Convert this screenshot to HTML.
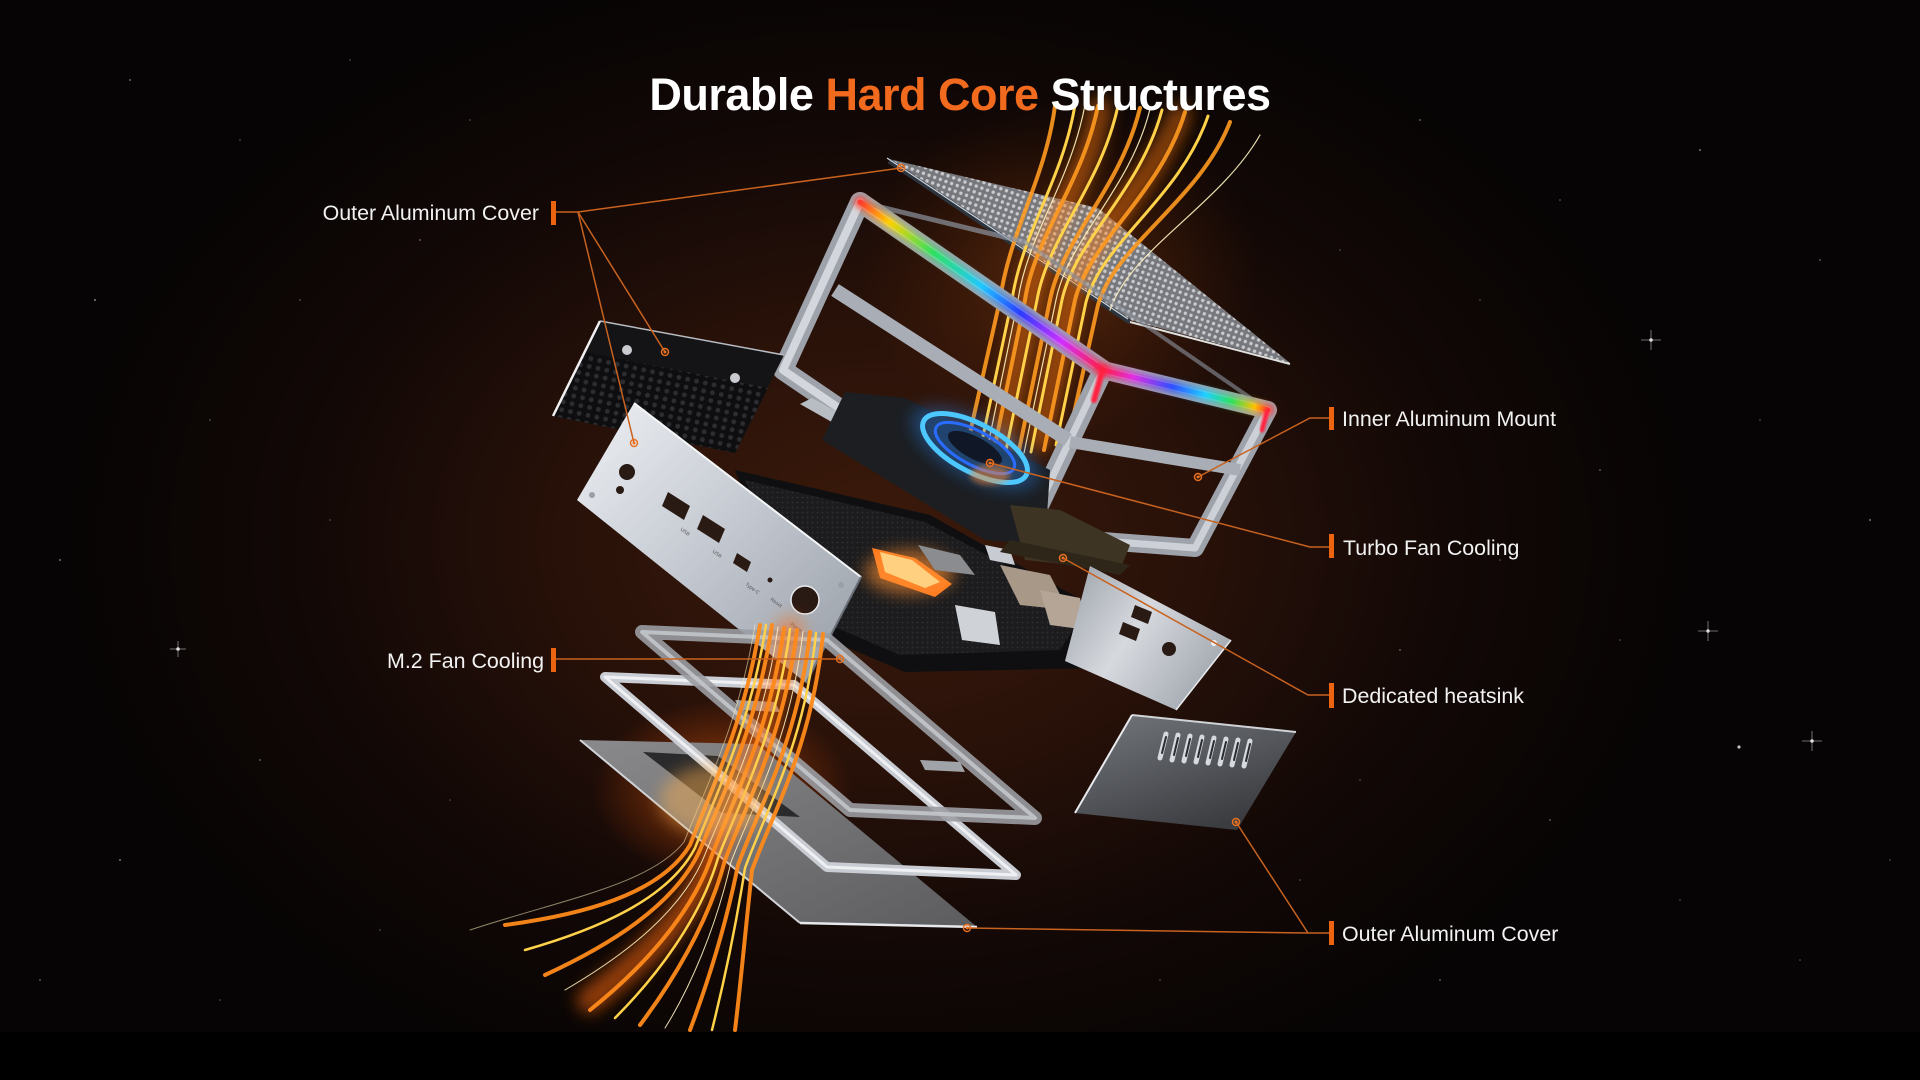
<!DOCTYPE html>
<html><head><meta charset="utf-8"><style>
html,body{margin:0;padding:0;background:#000;}
svg{display:block;}
</style></head><body>
<svg width="1920" height="1080" viewBox="0 0 1920 1080" xmlns="http://www.w3.org/2000/svg">
<defs>
<radialGradient id="bg" cx="880" cy="540" r="820" gradientUnits="userSpaceOnUse" gradientTransform="translate(880 540) scale(1 0.72) translate(-880 -540)">
<stop offset="0" stop-color="#3c1a0b"/><stop offset="0.35" stop-color="#2a1209"/><stop offset="0.7" stop-color="#120806"/><stop offset="1" stop-color="#060404"/>
</radialGradient>
<radialGradient id="hotglow" cx="0.5" cy="0.5" r="0.5"><stop offset="0" stop-color="#ffb040" stop-opacity="0.8"/><stop offset="0.45" stop-color="#ff6a10" stop-opacity="0.3"/><stop offset="1" stop-color="#ff5000" stop-opacity="0"/></radialGradient>
<radialGradient id="topglow" cx="0.5" cy="0.5" r="0.5"><stop offset="0" stop-color="#c25a18" stop-opacity="0.35"/><stop offset="1" stop-color="#803000" stop-opacity="0"/></radialGradient>
<pattern id="mesh" width="6" height="6" patternUnits="userSpaceOnUse" patternTransform="rotate(20)"><rect width="6" height="6" fill="#6c6d72"/><circle cx="3" cy="3" r="1.7" fill="#c6c7cb"/></pattern>
<pattern id="hex" width="9" height="8" patternUnits="userSpaceOnUse" patternTransform="rotate(12)"><rect width="9" height="8" fill="#0e0e10"/><circle cx="4.5" cy="4" r="2.4" fill="#2c2d31"/></pattern>
<pattern id="fine" width="5" height="5" patternUnits="userSpaceOnUse"><rect width="5" height="5" fill="#1c1c1e"/><circle cx="2.5" cy="2.5" r="0.9" fill="#303034"/></pattern>
<linearGradient id="silver" x1="0" y1="0" x2="1" y2="1"><stop offset="0" stop-color="#eef0f4"/><stop offset="0.5" stop-color="#c3c8d0"/><stop offset="1" stop-color="#959ba4"/></linearGradient>
<linearGradient id="silver2" x1="0" y1="0" x2="1" y2="0.6"><stop offset="0" stop-color="#9aa0a8"/><stop offset="0.5" stop-color="#d6d9de"/><stop offset="1" stop-color="#a4a9b1"/></linearGradient>
<linearGradient id="cover" x1="0" y1="0" x2="0.6" y2="1"><stop offset="0" stop-color="#74777c"/><stop offset="1" stop-color="#3a3c40"/></linearGradient>
<linearGradient id="plate" x1="0" y1="0" x2="1" y2="1"><stop offset="0" stop-color="#8a8a8c"/><stop offset="1" stop-color="#5c5c5e"/></linearGradient>
<linearGradient id="rgbA" x1="860" y1="202" x2="1103" y2="370" gradientUnits="userSpaceOnUse">
<stop offset="0" stop-color="#ff3a30"/><stop offset="0.12" stop-color="#ffd000"/><stop offset="0.3" stop-color="#30e060"/><stop offset="0.5" stop-color="#20c8ff"/><stop offset="0.66" stop-color="#2a3cff"/><stop offset="0.83" stop-color="#d030ff"/><stop offset="1" stop-color="#ff2040"/></linearGradient>
<linearGradient id="rgbB" x1="1103" y1="370" x2="1268" y2="410" gradientUnits="userSpaceOnUse">
<stop offset="0" stop-color="#ff2040"/><stop offset="0.18" stop-color="#e030e0"/><stop offset="0.42" stop-color="#3050ff"/><stop offset="0.62" stop-color="#20d0ff"/><stop offset="0.78" stop-color="#30e060"/><stop offset="0.92" stop-color="#ffc000"/><stop offset="1" stop-color="#ff3030"/></linearGradient>
<filter id="blur8" x="-50%" y="-50%" width="200%" height="200%"><feGaussianBlur stdDeviation="8"/></filter>
<filter id="blur3" x="-50%" y="-50%" width="200%" height="200%"><feGaussianBlur stdDeviation="3"/></filter>
<filter id="blur1" x="-50%" y="-50%" width="200%" height="200%"><feGaussianBlur stdDeviation="1"/></filter>
</defs>

<!-- background -->
<rect width="1920" height="1080" fill="url(#bg)"/>
<rect x="0" y="1032" width="1920" height="48" fill="#000"/>

<!-- stars -->
<g fill="#ffffff">
<circle cx="130" cy="80" r="0.9" opacity=".5"/><circle cx="240" cy="140" r="0.8" opacity=".4"/><circle cx="95" cy="300" r="1" opacity=".5"/><circle cx="210" cy="420" r="0.8" opacity=".4"/><circle cx="330" cy="520" r="0.8" opacity=".35"/><circle cx="60" cy="560" r="1" opacity=".45"/><circle cx="178" cy="649" r="1.8" opacity=".8"/><circle cx="260" cy="760" r="0.9" opacity=".4"/><circle cx="120" cy="860" r="1" opacity=".45"/><circle cx="380" cy="930" r="0.8" opacity=".35"/><circle cx="300" cy="300" r="0.8" opacity=".4"/><circle cx="420" cy="240" r="0.9" opacity=".4"/><circle cx="470" cy="120" r="0.8" opacity=".35"/><circle cx="350" cy="60" r="0.8" opacity=".35"/><circle cx="40" cy="980" r="0.9" opacity=".4"/><circle cx="220" cy="1000" r="0.8" opacity=".35"/><circle cx="450" cy="800" r="0.8" opacity=".3"/>
<circle cx="1420" cy="120" r="0.9" opacity=".45"/><circle cx="1560" cy="200" r="0.8" opacity=".4"/><circle cx="1700" cy="150" r="1" opacity=".45"/><circle cx="1820" cy="260" r="0.9" opacity=".4"/><circle cx="1651" cy="340" r="1.8" opacity=".8"/><circle cx="1480" cy="300" r="0.8" opacity=".35"/><circle cx="1600" cy="470" r="0.9" opacity=".4"/><circle cx="1760" cy="420" r="0.8" opacity=".4"/><circle cx="1870" cy="520" r="1" opacity=".45"/><circle cx="1708" cy="631" r="1.7" opacity=".8"/><circle cx="1739" cy="747" r="1.6" opacity=".75"/><circle cx="1812" cy="741" r="1.8" opacity=".8"/><circle cx="1500" cy="560" r="0.8" opacity=".35"/><circle cx="1400" cy="650" r="0.9" opacity=".4"/><circle cx="1550" cy="820" r="0.9" opacity=".4"/><circle cx="1680" cy="900" r="0.8" opacity=".35"/><circle cx="1440" cy="980" r="0.9" opacity=".4"/><circle cx="1800" cy="960" r="0.8" opacity=".35"/><circle cx="1360" cy="780" r="0.8" opacity=".35"/><circle cx="1620" cy="640" r="0.8" opacity=".35"/><circle cx="1890" cy="860" r="0.8" opacity=".35"/><circle cx="1340" cy="250" r="0.8" opacity=".35"/><circle cx="1250" cy="90" r="0.8" opacity=".35"/><circle cx="1160" cy="980" r="0.8" opacity=".35"/><circle cx="1300" cy="880" r="0.8" opacity=".35"/>
</g>
<g stroke="#ffffff" stroke-width="0.8" opacity=".55">
<line x1="1641" y1="340" x2="1661" y2="340"/><line x1="1651" y1="330" x2="1651" y2="350"/>
<line x1="1698" y1="631" x2="1718" y2="631"/><line x1="1708" y1="621" x2="1708" y2="641"/>
<line x1="1802" y1="741" x2="1822" y2="741"/><line x1="1812" y1="731" x2="1812" y2="751"/>
<line x1="170" y1="649" x2="186" y2="649"/><line x1="178" y1="641" x2="178" y2="657"/>
</g>

<!-- warm glows -->
<ellipse cx="722" cy="790" rx="130" ry="90" fill="url(#hotglow)"/>
<ellipse cx="1060" cy="270" rx="200" ry="170" fill="url(#topglow)"/>

<!-- top mesh cover -->
<polygon points="889,159 1098,208 1290,363 1130,320" fill="url(#mesh)"/>
<polygon points="889,159 1098,208 1290,363 1130,320" fill="#ffffff" opacity=".08"/>
<line x1="889" y1="161" x2="1130" y2="322" stroke="#2c343e" stroke-width="5"/>
<line x1="887" y1="158" x2="1128" y2="319" stroke="#cfd6de" stroke-width="1.2"/>
<line x1="1130" y1="322" x2="1290" y2="364" stroke="#e0e0e0" stroke-width="2"/>

<!-- upper streaks -->
<g fill="none" stroke-linecap="round">
<g filter="url(#blur8)" stroke="#ff7a10" stroke-width="22" opacity=".5">
<path d="M1100 108 C1085 190 1040 230 1030 300 L1000 450"/>
<path d="M1180 115 C1150 190 1080 240 1070 300 L1040 440"/>
</g>
<g stroke="#ff9a20" stroke-width="4" opacity=".9">
<path d="M1055 106 C1045 180 1010 230 1000 300 L965 455"/>
<path d="M1098 106 C1082 185 1035 235 1025 300 L993 455"/>
<path d="M1140 108 C1120 190 1062 238 1050 300 L1018 455"/>
<path d="M1185 112 C1160 195 1090 240 1075 300 L1044 450"/>
<path d="M1230 122 C1200 200 1115 245 1098 305 L1068 440"/>
</g>
<g stroke="#ffd24a" stroke-width="3">
<path d="M1075 105 C1062 182 1022 232 1012 300 L979 455"/>
<path d="M1118 106 C1100 188 1048 236 1037 300 L1005 455"/>
<path d="M1162 110 C1140 192 1075 240 1062 300 L1031 452"/>
<path d="M1208 116 C1180 198 1102 242 1086 302 L1056 445"/>
</g>
<g stroke="#fff4c0" stroke-width="1.2" opacity=".9">
<path d="M1085 105 C1070 184 1028 233 1018 300 L986 455"/>
<path d="M1150 109 C1130 190 1068 239 1056 300 L1024 453"/>
<path d="M1260 135 C1220 205 1130 250 1110 310"/>
</g>
</g>

<!-- RGB inner frame -->
<g fill="none" stroke-linejoin="round">
<polygon points="860,202 1103,370 1025,535 783,370" stroke="#9ea3ab" stroke-width="20"/>
<polygon points="860,202 1103,370 1025,535 783,370" stroke="#d3d7dd" stroke-width="8"/>
<polygon points="1103,370 1268,410 1195,548 1025,535" stroke="#9ea3ab" stroke-width="18"/>
<polygon points="1103,370 1268,410 1195,548 1025,535" stroke="#cdd1d7" stroke-width="7"/>
<line x1="835" y1="290" x2="1068" y2="440" stroke="#a9aeb6" stroke-width="14"/>
<line x1="1070" y1="442" x2="1240" y2="470" stroke="#a9aeb6" stroke-width="12"/>
<line x1="860" y1="202" x2="1025" y2="242" stroke="#8d94a0" stroke-width="5" opacity=".7"/>
<line x1="1025" y1="242" x2="1268" y2="410" stroke="#8d94a0" stroke-width="4" opacity=".6"/>
</g>
<g stroke-linecap="round">
<line x1="860" y1="202" x2="1103" y2="370" stroke="url(#rgbA)" stroke-width="12" filter="url(#blur3)" opacity=".8"/>
<line x1="1103" y1="370" x2="1268" y2="410" stroke="url(#rgbB)" stroke-width="12" filter="url(#blur3)" opacity=".8"/>
<line x1="860" y1="202" x2="1103" y2="370" stroke="url(#rgbA)" stroke-width="5"/>
<line x1="1103" y1="370" x2="1268" y2="410" stroke="url(#rgbB)" stroke-width="5"/>
<line x1="1102" y1="372" x2="1094" y2="400" stroke="#ff2040" stroke-width="6" filter="url(#blur1)"/>
<line x1="1267" y1="412" x2="1262" y2="430" stroke="#ff2040" stroke-width="5" filter="url(#blur1)"/>
</g>

<!-- fan assembly -->
<polygon points="800,404 812,398 1000,500 990,512" fill="#b8bcc3"/>
<polygon points="845,392 905,398 1050,470 1045,545 985,540 822,440" fill="#1c1e22"/>
<polygon points="1010,505 1060,510 1130,545 1120,570 1025,560" fill="#3e3424"/>
<g transform="rotate(28 975 448)">
<ellipse cx="975" cy="448" rx="70" ry="30" fill="#2a8cff" opacity=".35" filter="url(#blur8)"/>
<ellipse cx="975" cy="448" rx="58" ry="24" fill="none" stroke="#4cc8ff" stroke-width="5"/>
<ellipse cx="975" cy="448" rx="44" ry="17" fill="none" stroke="#2a6cff" stroke-width="3"/>
<ellipse cx="975" cy="448" rx="30" ry="11" fill="#101828"/>
</g>
<ellipse cx="990" cy="475" rx="20" ry="10" fill="#ff8a30" opacity=".5" filter="url(#blur3)"/>

<!-- left black rear panel -->
<polygon points="600,321 784,355 735,453 553,416" fill="#141416"/>
<polygon points="585,352 768,388 735,453 553,416" fill="url(#hex)"/>
<line x1="600" y1="321" x2="553" y2="416" stroke="#f0f0f0" stroke-width="2.5"/>
<line x1="600" y1="321" x2="784" y2="355" stroke="#b8bcc3" stroke-width="1.5"/>
<circle cx="627" cy="350" r="5" fill="#c9cbd0"/><circle cx="735" cy="378" r="5" fill="#c9cbd0"/>

<!-- motherboard -->
<polygon points="735,470 930,515 1010,560 1100,610 1105,668 905,672 830,640 780,590" fill="#0f0f11"/>
<polygon points="745,480 925,522 1000,562 1085,612 1060,650 900,655 830,625 790,585" fill="url(#fine)"/>
<polygon points="872,548 915,558 952,584 935,597 880,578" fill="#ff7a20"/>
<ellipse cx="910" cy="572" rx="45" ry="22" fill="#ff9030" opacity=".6" filter="url(#blur8)"/>
<polygon points="880,552 912,560 940,582 925,588 885,572" fill="#ffd080"/>
<polygon points="918,545 960,555 975,575 935,570" fill="#8a8c90"/>
<polygon points="1000,565 1050,575 1068,610 1020,605" fill="#a89888"/>
<polygon points="1040,590 1080,598 1088,630 1050,625" fill="#b4a596"/>
<polygon points="955,605 995,612 1000,645 962,640" fill="#cfd2d6"/>
<polygon points="985,545 1010,550 1015,565 990,560" fill="#c8ccd2"/>
<polygon points="1010,540 1130,565 1120,575 1000,552" fill="#2e2619"/>

<!-- front IO panel -->
<polygon points="634,403 861,577 806,683 577,500" fill="url(#silver)"/>
<line x1="634" y1="403" x2="861" y2="577" stroke="#f4f6f8" stroke-width="2"/>
<line x1="861" y1="577" x2="806" y2="683" stroke="#6a7078" stroke-width="2"/>
<g fill="#2a1a14">
<circle cx="627" cy="472" r="8"/>
<circle cx="620" cy="490" r="4"/>
<polygon points="668,492 690,506 684,520 662,506"/>
<polygon points="703,515 725,529 719,543 697,529"/>
<polygon points="737,553 751,562 747,572 733,563"/>
<circle cx="770" cy="580" r="2.5"/>
<circle cx="805" cy="600" r="14"/>
</g>
<circle cx="805" cy="600" r="14" fill="none" stroke="#e8eaee" stroke-width="1.5"/>
<g fill="#9aa0a8"><circle cx="592" cy="495" r="3"/><circle cx="841" cy="585" r="3"/><circle cx="800" cy="661" r="3"/></g>
<g font-family="Liberation Sans, sans-serif" font-size="5" fill="#555">
<text x="680" y="530" transform="rotate(36 680 530)">USB</text>
<text x="712" y="552" transform="rotate(36 712 552)">USB</text>
<text x="745" y="585" transform="rotate(36 745 585)">Type-C</text>
<text x="770" y="600" transform="rotate(36 770 600)">Reset</text>
<text x="790" y="625" transform="rotate(36 790 625)">Power</text>
</g>

<!-- right IO panel -->
<polygon points="1090,566 1231,640 1176,710 1065,661" fill="url(#silver2)"/>
<line x1="1231" y1="640" x2="1176" y2="710" stroke="#e8eaee" stroke-width="1.5"/>
<g fill="#2a1a14">
<polygon points="1135,605 1152,612 1148,624 1131,617"/>
<polygon points="1123,622 1140,629 1136,641 1119,634"/>
<circle cx="1169" cy="649" r="7"/>
</g>
<circle cx="1214" cy="643" r="3" fill="#f0f0f0"/>

<!-- bottom right heatsink cover -->
<polygon points="1132,715 1296,732 1237,830 1075,813" fill="url(#cover)"/>
<line x1="1132" y1="715" x2="1296" y2="732" stroke="#d0d3d8" stroke-width="2"/>
<line x1="1132" y1="715" x2="1075" y2="813" stroke="#e8eaee" stroke-width="2"/>
<g stroke="#d6dae0" stroke-width="5" stroke-linecap="round">
<line x1="1166" y1="734" x2="1160" y2="758"/><line x1="1178" y1="735" x2="1172" y2="760"/><line x1="1190" y1="736" x2="1184" y2="761"/><line x1="1202" y1="737" x2="1196" y2="762"/><line x1="1214" y1="738" x2="1208" y2="763"/><line x1="1226" y1="739" x2="1220" y2="764"/><line x1="1238" y1="740" x2="1232" y2="765"/><line x1="1250" y1="741" x2="1244" y2="766"/>
</g>
<g stroke="#2a2c30" stroke-width="2" stroke-linecap="round">
<line x1="1166" y1="737" x2="1162" y2="753"/><line x1="1178" y1="738" x2="1174" y2="755"/><line x1="1190" y1="739" x2="1186" y2="756"/><line x1="1202" y1="740" x2="1198" y2="757"/><line x1="1214" y1="741" x2="1210" y2="758"/><line x1="1226" y1="742" x2="1222" y2="759"/><line x1="1238" y1="743" x2="1234" y2="760"/><line x1="1250" y1="744" x2="1246" y2="761"/>
</g>

<!-- bottom plate -->
<polygon points="580,740 757,744 977,927 800,923" fill="url(#plate)"/>
<polygon points="643,752 718,756 800,817 722,813" fill="#2a2a2c"/>
<line x1="580" y1="740" x2="800" y2="923" stroke="#cfd3d8" stroke-width="2"/>
<line x1="800" y1="923" x2="977" y2="927" stroke="#e6e8ec" stroke-width="2.5"/>

<!-- frame 2 (thick rim) -->
<polygon points="605,677 794,685 1016,875 827,867" fill="none" stroke="#c9ccd2" stroke-width="10" stroke-linejoin="round"/>
<polygon points="605,677 794,685 1016,875 827,867" fill="none" stroke="#eef0f3" stroke-width="3" stroke-linejoin="round"/>

<!-- frame 1 (thin plate frame) -->
<polygon points="642,632 827,640 1035,818 850,810" fill="none" stroke="#9a9ca2" stroke-width="14" stroke-linejoin="round" opacity=".9"/>
<polygon points="642,632 827,640 1035,818 850,810" fill="none" stroke="#c2c5ca" stroke-width="4" stroke-linejoin="round" opacity=".9"/>
<polygon points="735,700 775,702 780,712 740,710" fill="#a0a3a8"/>
<polygon points="920,760 960,762 965,772 925,770" fill="#a0a3a8"/>

<!-- lower streaks -->
<g fill="none" stroke-linecap="round">
<g filter="url(#blur8)" stroke="#ff6a10" stroke-width="26" opacity=".55">
<path d="M790 630 C770 730 735 790 710 860 C690 920 640 960 590 1000"/>
</g>
<g stroke="#ff8a1a" stroke-width="4" opacity=".95">
<path d="M760 625 C745 720 715 780 690 845 C660 895 580 915 505 925"/>
<path d="M772 625 C757 725 725 790 700 850 C675 905 610 945 545 975"/>
<path d="M784 628 C770 730 735 795 712 855 C692 915 640 970 590 1010"/>
<path d="M797 630 C784 735 748 800 725 860 C708 925 670 985 640 1025"/>
<path d="M810 632 C798 740 760 805 738 865 C725 930 705 990 690 1030"/>
<path d="M823 634 C812 745 774 810 752 870 C745 935 740 990 735 1030"/>
</g>
<g stroke="#ffd24a" stroke-width="2.5">
<path d="M766 625 C751 722 720 785 695 848 C668 900 595 930 525 950"/>
<path d="M790 629 C777 732 741 798 718 858 C700 920 655 978 615 1018"/>
<path d="M816 633 C805 742 767 808 745 868 C735 932 722 990 712 1030"/>
</g>
<g stroke="#fff2c0" stroke-width="1" opacity=".9">
<path d="M778 627 C764 728 730 792 706 852 C684 910 625 955 565 990"/>
<path d="M803 631 C791 738 754 802 731 862 C716 928 690 988 665 1028"/>
<path d="M755 625 C740 718 710 778 684 842 C650 885 560 900 470 930" opacity=".6"/>
</g>
</g>
<ellipse cx="715" cy="800" rx="55" ry="35" fill="#ffb050" opacity=".45" filter="url(#blur8)"/>

<!-- connectors -->
<g stroke="#c8621e" stroke-width="1.5" fill="none">
<polyline points="556,212 578,212 901,168"/>
<line x1="578" y1="212" x2="665" y2="352"/>
<line x1="578" y1="212" x2="634" y2="443"/>
<polyline points="1329,418 1310,418 1198,477"/>
<polyline points="1329,547 1310,547 990,463"/>
<line x1="556" y1="659" x2="840" y2="659"/>
<polyline points="1329,695 1308,695 1063,558"/>
<polyline points="1329,933 1308,933 967,928"/>
<line x1="1308" y1="933" x2="1236" y2="822"/>
</g>
<g fill="none" stroke="#e8701e" stroke-width="1.5">
<circle cx="901" cy="168" r="3.5"/><circle cx="665" cy="352" r="3.5"/><circle cx="634" cy="443" r="3.5"/><circle cx="1198" cy="477" r="3.5"/><circle cx="990" cy="463" r="3.5"/><circle cx="840" cy="659" r="3.5"/><circle cx="1063" cy="558" r="3.5"/><circle cx="967" cy="928" r="3.5"/><circle cx="1236" cy="822" r="3.5"/>
</g>
<g fill="#f07020">
<circle cx="901" cy="168" r="1.5"/><circle cx="665" cy="352" r="1.5"/><circle cx="634" cy="443" r="1.5"/><circle cx="1198" cy="477" r="1.5"/><circle cx="990" cy="463" r="1.5"/><circle cx="840" cy="659" r="1.5"/><circle cx="1063" cy="558" r="1.5"/><circle cx="967" cy="928" r="1.5"/><circle cx="1236" cy="822" r="1.5"/>
</g>

<!-- label bars -->
<g fill="#ec6410">
<rect x="551" y="201" width="5" height="24"/>
<rect x="551" y="648" width="5" height="24"/>
<rect x="1329" y="407" width="5" height="23"/>
<rect x="1329" y="534" width="5" height="24"/>
<rect x="1329" y="683" width="5" height="25"/>
<rect x="1329" y="921" width="5" height="24"/>
</g>

<!-- labels -->
<g font-family="'Liberation Sans', Arial, sans-serif" font-size="21.4" fill="#f2f2f2">
<text x="539" y="220" text-anchor="end">Outer Aluminum Cover</text>
<text x="544" y="668" text-anchor="end">M.2 Fan Cooling</text>
<text x="1342" y="426">Inner Aluminum Mount</text>
<text x="1343" y="555">Turbo Fan Cooling</text>
<text x="1342" y="703">Dedicated heatsink</text>
<text x="1342" y="941">Outer Aluminum Cover</text>
</g>

<!-- title -->
<text x="960" y="110" text-anchor="middle" font-family="'Liberation Sans', Arial, sans-serif" font-weight="bold" font-size="45" letter-spacing="-0.5" fill="#ffffff">Durable <tspan fill="#f26a1e">Hard Core</tspan> Structures</text>
</svg>
</body></html>
